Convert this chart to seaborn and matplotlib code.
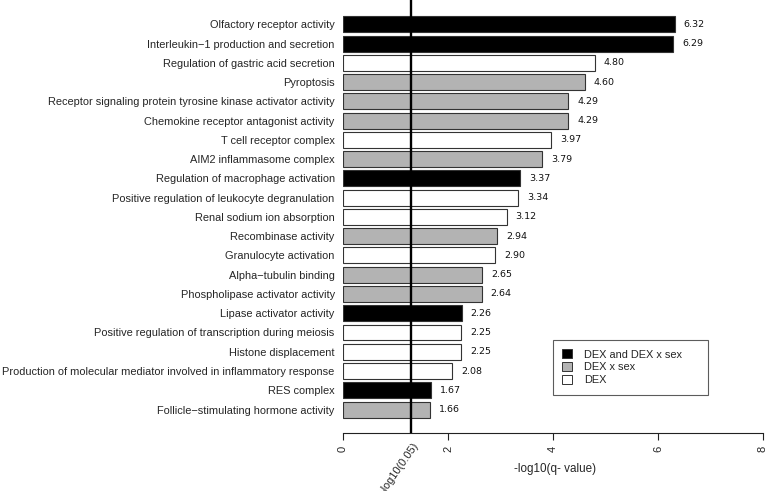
import matplotlib
matplotlib.use("Agg")
import matplotlib.pyplot as plt
import seaborn as sns
import pandas as pd
import numpy as np
from matplotlib.patches import Patch

terms = [
    "Olfactory receptor activity",
    "Interleukin\u22121 production and secretion",
    "Regulation of gastric acid secretion",
    "Pyroptosis",
    "Receptor signaling protein tyrosine kinase activator activity",
    "Chemokine receptor antagonist activity",
    "T cell receptor complex",
    "AIM2 inflammasome complex",
    "Regulation of macrophage activation",
    "Positive regulation of leukocyte degranulation",
    "Renal sodium ion absorption",
    "Recombinase activity",
    "Granulocyte activation",
    "Alpha\u2212tubulin binding",
    "Phospholipase activator activity",
    "Lipase activator activity",
    "Positive regulation of transcription during meiosis",
    "Histone displacement",
    "Production of molecular mediator involved in inflammatory response",
    "RES complex",
    "Follicle\u2212stimulating hormone activity",
]
values = [6.32, 6.29, 4.80, 4.60, 4.29, 4.29, 3.97, 3.79, 3.37, 3.34, 3.12,
          2.94, 2.90, 2.65, 2.64, 2.26, 2.25, 2.25, 2.08, 1.67, 1.66]
groups = ["DEX and DEX x sex", "DEX and DEX x sex", "DEX", "DEX x sex", "DEX x sex",
          "DEX x sex", "DEX", "DEX x sex", "DEX and DEX x sex", "DEX", "DEX",
          "DEX x sex", "DEX", "DEX x sex", "DEX x sex", "DEX and DEX x sex", "DEX",
          "DEX", "DEX", "DEX and DEX x sex", "DEX x sex"]
group_order = ["DEX and DEX x sex", "DEX x sex", "DEX"]
palette = {"DEX and DEX x sex": "#000000", "DEX x sex": "#B3B3B3", "DEX": "#FFFFFF"}
threshold = -np.log10(0.05)
xticks = [0, 2, 4, 6, 8]

df = pd.DataFrame({"term": terms, "value": values, "group": groups})

sns.set_style("white")
plt.rcParams["font.family"] = ["Liberation Sans", "DejaVu Sans"]

W, H = 768, 491
fig = plt.figure(figsize=(W / 100, H / 100), dpi=100)
ax = fig.add_axes([343 / W, (H - 433) / H, (W - 343) / W, 433 / H])

sns.barplot(data=df, y="term", x="value", hue="group", hue_order=group_order,
            palette=palette, dodge=False, orient="h", width=0.83,
            edgecolor="#333333", linewidth=0.8, legend=False, ax=ax)

ppu = 52.5
ax.set_xlim(0, (W - 343) / ppu)
ax.set_ylim(21.22, -1.27)

for i, v in enumerate(values):
    ax.text(v + 0.37, i, f"{v:.2f}", va="center", ha="center", fontsize=6.8,
            family=["DejaVu Sans"], color="#111111")

ax.axvline(threshold, color="black", linewidth=1.7, zorder=5)

for s in ["left", "top", "right"]:
    ax.spines[s].set_visible(False)
ax.spines["bottom"].set_bounds(0, 8)
ax.spines["bottom"].set_linewidth(0.8)
ax.spines["bottom"].set_color("#222222")

ax.set_xticks(xticks)
ax.set_xticklabels([str(t) for t in xticks], rotation=90, fontsize=8)
ax.tick_params(axis="x", direction="out", length=5, width=0.8, bottom=True,
               color="#222222", pad=4)
ax.tick_params(axis="y", length=0, pad=6, labelsize=7.9)
ax.set_ylabel("")
ax.set_xlabel("-log10(q- value)", fontsize=8.4, labelpad=8)

ax.text(threshold + 0.03, 21.62, "-log10(0.05)", rotation=55, ha="right", va="top",
        rotation_mode="anchor", fontsize=7.9, clip_on=False)

handles = [Patch(facecolor=palette[g], edgecolor="#333333", linewidth=0.7, label=g)
           for g in group_order]
axw = W - 343
x0 = (553 - 343) / axw
leg = ax.legend(handles=handles, loc="upper left", mode="expand",
                bbox_to_anchor=(x0, 1 - 394 / 433, (708 - 553) / axw, (394 - 340) / 433),
                frameon=True, fontsize=7.9, handlelength=0.85, handleheight=0.85,
                borderpad=0.85, labelspacing=0.25, handletextpad=1.1,
                fancybox=False, borderaxespad=0)
leg.get_frame().set_edgecolor("#333333")
leg.get_frame().set_linewidth(0.8)

fig.savefig("out.png", dpi=100)
